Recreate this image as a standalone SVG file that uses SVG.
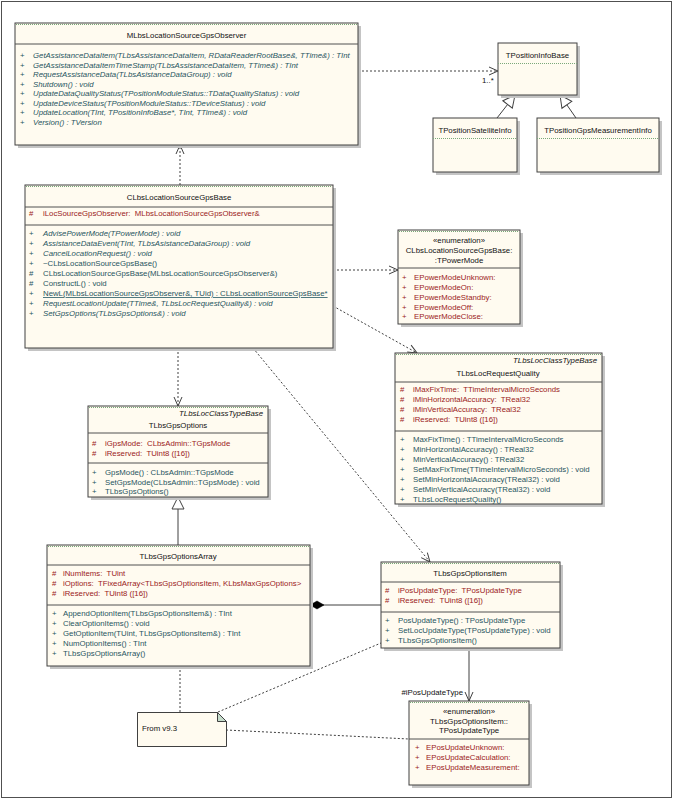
<svg xmlns="http://www.w3.org/2000/svg" width="673" height="800" viewBox="0 0 673 800">
<style>
text{font-family:"Liberation Sans",Arial,sans-serif;font-size:7.8px;white-space:pre}
.box{fill:#FFFBF0;stroke:#404040;stroke-width:1}
.sh{fill:#c4c4c4}
.sep{stroke:#505050;stroke-width:1}
.gsep{stroke:#7aa87a;stroke-width:1;stroke-dasharray:1,1}
.t{fill:#111;text-anchor:middle}
.st{fill:#111;font-style:italic;text-anchor:end}
.a{fill:#9b2222}
.o{fill:#1f5560}
.i{font-style:italic}
.dep{fill:none;stroke:#404040;stroke-width:1;stroke-dasharray:2,2}
.sol{fill:none;stroke:#404040;stroke-width:1}
</style>
<defs>
<marker id="oa" markerUnits="userSpaceOnUse" markerWidth="12" markerHeight="10" refX="9" refY="4" orient="auto" overflow="visible">
<path d="M0,0 L9,4 L0,8" fill="none" stroke="#404040" stroke-width="1"/>
</marker>
<marker id="tri" markerUnits="userSpaceOnUse" markerWidth="14" markerHeight="14" refX="12" refY="6" orient="auto" overflow="visible">
<path d="M0,0 L12,6 L0,12 Z" fill="#fff" stroke="#404040" stroke-width="1"/>
</marker>
<marker id="dia" markerUnits="userSpaceOnUse" markerWidth="16" markerHeight="10" refX="0" refY="4" orient="auto" overflow="visible">
<path d="M0,4 L7,0 L14,4 L7,8 Z" fill="#000" stroke="#000" stroke-width="0.5"/>
</marker>
</defs>
<rect x="1.5" y="1.5" width="670" height="796" fill="#fff" stroke="#505050"/>

<g id="connectors">
<line class="dep" x1="358" y1="71" x2="498" y2="71" marker-end="url(#oa)"/>
<text x="482" y="83" fill="#111">1..*</text>
<line class="sol" x1="497" y1="118" x2="515" y2="95" marker-end="url(#tri)"/>
<line class="sol" x1="576" y1="118" x2="560" y2="95" marker-end="url(#tri)"/>
<line class="dep" x1="180" y1="185" x2="180" y2="145" marker-end="url(#oa)"/>
<line class="dep" x1="333" y1="270" x2="398" y2="270" marker-end="url(#oa)"/>
<line class="dep" x1="333" y1="306" x2="417" y2="353" marker-end="url(#oa)"/>
<line class="dep" x1="178" y1="348" x2="178" y2="406" marker-end="url(#oa)"/>
<line class="dep" x1="253" y1="348" x2="430" y2="562" marker-end="url(#oa)"/>
<line class="sol" x1="178" y1="545" x2="178" y2="497" marker-end="url(#tri)"/>
<line class="sol" x1="310" y1="605" x2="381" y2="605" marker-start="url(#dia)"/>
<line class="sol" x1="469" y1="648" x2="469" y2="701" marker-end="url(#oa)"/>
<text x="463" y="695" fill="#111" text-anchor="end">#iPosUpdateType</text>
<line class="dep" x1="180" y1="666" x2="180" y2="712"/>
<line class="dep" x1="218" y1="712" x2="381" y2="643"/>
<line class="dep" x1="226" y1="730" x2="409" y2="739"/>
</g>

<g id="MLbsLocationSourceGpsObserver">
<rect class="sh" x="18" y="26" width="343" height="122"/>
<rect class="box" x="15" y="23" width="343" height="122"/>
<line class="gsep" x1="16" y1="24.5" x2="357" y2="24.5"/>
<text class="t" x="186.5" y="38">MLbsLocationSourceGpsObserver</text>
<line class="sep" x1="15" y1="44" x2="358" y2="44"/>
<g class="o">
<text x="20" y="58">+</text><text class="i" x="33" y="58">GetAssistanceDataItem(TLbsAssistanceDataItem, RDataReaderRootBase&amp;, TTime&amp;) : TInt</text>
<text x="20" y="67.5">+</text><text class="i" x="33" y="67.5">GetAssistanceDataItemTimeStamp(TLbsAssistanceDataItem, TTime&amp;) : TInt</text>
<text x="20" y="77">+</text><text class="i" x="33" y="77">RequestAssistanceData(TLbsAsistanceDataGroup) : void</text>
<text x="20" y="86.5">+</text><text class="i" x="33" y="86.5">Shutdown() : void</text>
<text x="20" y="96">+</text><text class="i" x="33" y="96">UpdateDataQualityStatus(TPositionModuleStatus::TDataQualityStatus) : void</text>
<text x="20" y="105.5">+</text><text class="i" x="33" y="105.5">UpdateDeviceStatus(TPositionModuleStatus::TDeviceStatus) : void</text>
<text x="20" y="115">+</text><text class="i" x="33" y="115">UpdateLocation(TInt, TPositionInfoBase*, TInt, TTime&amp;) : void</text>
<text x="20" y="124.5">+</text><text class="i" x="33" y="124.5">Version() : TVersion</text>
</g>
</g>

<g id="TPositionInfoBase">
<rect class="sh" x="501" y="46" width="79" height="52"/>
<rect class="box" x="498" y="43" width="79" height="52"/>
<text class="t" x="537.5" y="58">TPositionInfoBase</text>
<line class="gsep" x1="498" y1="63.5" x2="577" y2="63.5"/>
</g>

<g id="TPositionSatelliteInfo">
<rect class="sh" x="436" y="121" width="84" height="54"/>
<rect class="box" x="433" y="118" width="84" height="54"/>
<text class="t" x="475" y="133">TPositionSatelliteInfo</text>
<line class="gsep" x1="433" y1="138.5" x2="517" y2="138.5"/>
</g>

<g id="TPositionGpsMeasurementInfo">
<rect class="sh" x="540" y="121" width="122" height="54"/>
<rect class="box" x="537" y="118" width="122" height="54"/>
<text class="t" x="598" y="133">TPositionGpsMeasurementInfo</text>
<line class="gsep" x1="537" y1="138.5" x2="659" y2="138.5"/>
</g>

<g id="CLbsLocationSourceGpsBase">
<rect class="sh" x="28" y="188" width="308" height="163"/>
<rect class="box" x="25" y="185" width="308" height="163"/>
<line class="gsep" x1="26" y1="186.5" x2="332" y2="186.5"/>
<text class="t" x="179" y="200">CLbsLocationSourceGpsBase</text>
<line class="sep" x1="25" y1="207" x2="333" y2="207"/>
<text class="a" x="29" y="216">#</text><text class="a" x="43" y="216">iLocSourceGpsObserver:  MLbsLocationSourceGpsObserver&amp;</text>
<line class="sep" x1="25" y1="225" x2="333" y2="225"/>
<g class="o">
<text x="29" y="236">+</text><text class="i" x="43" y="236">AdvisePowerMode(TPowerMode) : void</text>
<text x="29" y="246">+</text><text class="i" x="43" y="246">AssistanceDataEvent(TInt, TLbsAsistanceDataGroup) : void</text>
<text x="29" y="256">+</text><text class="i" x="43" y="256">CancelLocationRequest() : void</text>
<text x="29" y="266">+</text><text x="43" y="266">~CLbsLocationSourceGpsBase()</text>
<text x="29" y="276">#</text><text x="43" y="276">CLbsLocationSourceGpsBase(MLbsLocationSourceGpsObserver&amp;)</text>
<text x="29" y="286">#</text><text x="43" y="286">ConstructL() : void</text>
<text x="29" y="296">+</text><text x="43" y="296" text-decoration="underline">NewL(MLbsLocationSourceGpsObserver&amp;, TUid) : CLbsLocationSourceGpsBase*</text>
<text x="29" y="306">+</text><text class="i" x="43" y="306">RequestLocationUpdate(TTime&amp;, TLbsLocRequestQuality&amp;) : void</text>
<text x="29" y="316">+</text><text class="i" x="43" y="316">SetGpsOptions(TLbsGpsOptions&amp;) : void</text>
</g>
</g>

<g id="TPowerMode">
<rect class="sh" x="401" y="233" width="122" height="94"/>
<rect class="box" x="398" y="230" width="122" height="94"/>
<line class="gsep" x1="399" y1="231.5" x2="519" y2="231.5"/>
<text class="t" x="459" y="243">«enumeration»</text>
<text class="t" x="459" y="253">CLbsLocationSourceGpsBase:</text>
<text class="t" x="459" y="262.5">:TPowerMode</text>
<line class="sep" x1="398" y1="268" x2="520" y2="268"/>
<g class="a">
<text x="402" y="280">+</text><text x="414" y="280">EPowerModeUnknown:</text>
<text x="402" y="290">+</text><text x="414" y="290">EPowerModeOn:</text>
<text x="402" y="300">+</text><text x="414" y="300">EPowerModeStandby:</text>
<text x="402" y="309.5">+</text><text x="414" y="309.5">EPowerModeOff:</text>
<text x="402" y="319">+</text><text x="414" y="319">EPowerModeClose:</text>
</g>
</g>

<g id="TLbsLocRequestQuality">
<rect class="sh" x="398" y="356" width="207" height="151"/>
<rect class="box" x="395" y="353" width="207" height="151"/>
<line class="gsep" x1="396" y1="354.5" x2="601" y2="354.5"/>
<text class="st" x="597" y="363">TLbsLocClassTypeBase</text>
<text class="t" x="498" y="376">TLbsLocRequestQuality</text>
<line class="sep" x1="395" y1="382" x2="602" y2="382"/>
<g class="a">
<text x="400" y="392">#</text><text x="413" y="392">iMaxFixTime:  TTimeIntervalMicroSeconds</text>
<text x="400" y="402">#</text><text x="413" y="402">iMinHorizontalAccuracy:  TReal32</text>
<text x="400" y="412">#</text><text x="413" y="412">iMinVerticalAccuracy:  TReal32</text>
<text x="400" y="422">#</text><text x="413" y="422">iReserved:  TUint8 ([16])</text>
</g>
<line class="sep" x1="395" y1="431" x2="602" y2="431"/>
<g class="o">
<text x="400" y="442">+</text><text x="413" y="442">MaxFixTime() : TTimeIntervalMicroSeconds</text>
<text x="400" y="452">+</text><text x="413" y="452">MinHorizontalAccuracy() : TReal32</text>
<text x="400" y="462">+</text><text x="413" y="462">MinVerticalAccuracy() : TReal32</text>
<text x="400" y="472">+</text><text x="413" y="472">SetMaxFixTime(TTimeIntervalMicroSeconds) : void</text>
<text x="400" y="482">+</text><text x="413" y="482">SetMinHorizontalAccuracy(TReal32) : void</text>
<text x="400" y="492">+</text><text x="413" y="492">SetMinVerticalAccuracy(TReal32) : void</text>
<text x="400" y="502">+</text><text x="413" y="502">TLbsLocRequestQuality()</text>
</g>
</g>

<g id="TLbsGpsOptions">
<rect class="sh" x="91" y="409" width="180" height="91"/>
<rect class="box" x="88" y="406" width="180" height="91"/>
<line class="gsep" x1="89" y1="407.5" x2="267" y2="407.5"/>
<text class="st" x="263" y="416">TLbsLocClassTypeBase</text>
<text class="t" x="178" y="428">TLbsGpsOptions</text>
<line class="sep" x1="88" y1="433" x2="268" y2="433"/>
<g class="a">
<text x="92" y="446">#</text><text x="105" y="446">iGpsMode:  CLbsAdmin::TGpsMode</text>
<text x="92" y="455.5">#</text><text x="105" y="455.5">iReserved:  TUint8 ([16])</text>
</g>
<line class="sep" x1="88" y1="463" x2="268" y2="463"/>
<g class="o">
<text x="92" y="475">+</text><text x="105" y="475">GpsMode() : CLbsAdmin::TGpsMode</text>
<text x="92" y="484.5">+</text><text x="105" y="484.5">SetGpsMode(CLbsAdmin::TGpsMode) : void</text>
<text x="92" y="494">+</text><text x="105" y="494">TLbsGpsOptions()</text>
</g>
</g>

<g id="TLbsGpsOptionsArray">
<rect class="sh" x="50" y="548" width="263" height="121"/>
<rect class="box" x="47" y="545" width="263" height="121"/>
<line class="gsep" x1="48" y1="546.5" x2="309" y2="546.5"/>
<text class="t" x="178" y="559">TLbsGpsOptionsArray</text>
<line class="sep" x1="47" y1="565" x2="310" y2="565"/>
<g class="a">
<text x="52" y="576">#</text><text x="63" y="576">iNumItems:  TUint</text>
<text x="52" y="586">#</text><text x="63" y="586">iOptions:  TFixedArray&lt;TLbsGpsOptionsItem, KLbsMaxGpsOptions&gt;</text>
<text x="52" y="596">#</text><text x="63" y="596">iReserved:  TUint8 ([16])</text>
</g>
<line class="sep" x1="47" y1="605" x2="310" y2="605"/>
<g class="o">
<text x="52" y="616">+</text><text x="63" y="616">AppendOptionItem(TLbsGpsOptionsItem&amp;) : TInt</text>
<text x="52" y="626">+</text><text x="63" y="626">ClearOptionItems() : void</text>
<text x="52" y="635.5">+</text><text x="63" y="635.5">GetOptionItem(TUint, TLbsGpsOptionsItem&amp;) : TInt</text>
<text x="52" y="645.5">+</text><text x="63" y="645.5">NumOptionItems() : TInt</text>
<text x="52" y="656">+</text><text x="63" y="656">TLbsGpsOptionsArray()</text>
</g>
</g>

<g id="TLbsGpsOptionsItem">
<rect class="sh" x="384" y="565" width="179" height="86"/>
<rect class="box" x="381" y="562" width="179" height="86"/>
<line class="gsep" x1="382" y1="563.5" x2="559" y2="563.5"/>
<text class="t" x="470" y="576">TLbsGpsOptionsItem</text>
<line class="sep" x1="381" y1="582" x2="560" y2="582"/>
<g class="a">
<text x="385" y="593">#</text><text x="398" y="593">iPosUpdateType:  TPosUpdateType</text>
<text x="385" y="602.5">#</text><text x="398" y="602.5">iReserved:  TUint8 ([16])</text>
</g>
<line class="sep" x1="381" y1="612" x2="560" y2="612"/>
<g class="o">
<text x="385" y="623">+</text><text x="398" y="623">PosUpdateType() : TPosUpdateType</text>
<text x="385" y="633">+</text><text x="398" y="633">SetLocUpdateType(TPosUpdateType) : void</text>
<text x="385" y="643">+</text><text x="398" y="643">TLbsGpsOptionsItem()</text>
</g>
</g>

<g id="TPosUpdateType">
<rect class="sh" x="412" y="704" width="120" height="84"/>
<rect class="box" x="409" y="701" width="120" height="84"/>
<line class="gsep" x1="410" y1="702.5" x2="528" y2="702.5"/>
<text class="t" x="469" y="714">«enumeration»</text>
<text class="t" x="469" y="723.5">TLbsGpsOptionsItem::</text>
<text class="t" x="469" y="733">TPosUpdateType</text>
<line class="sep" x1="409" y1="739" x2="529" y2="739"/>
<g class="a">
<text x="415" y="750">+</text><text x="426" y="750">EPosUpdateUnknown:</text>
<text x="415" y="760">+</text><text x="426" y="760">EPosUpdateCalculation:</text>
<text x="415" y="770">+</text><text x="426" y="770">EPosUpdateMeasurement:</text>
</g>
</g>

<g id="note">
<path d="M137.5,712.5 H217.5 L226.5,721.5 V746.5 H137.5 Z" fill="#FFFBF0" stroke="#404040"/>
<path d="M217.5,712.5 L226.5,721.5 H217.5 Z" fill="#c5dccb" stroke="#404040"/>
<text x="142" y="731" fill="#111">From v9.3</text>
</g>
</svg>
